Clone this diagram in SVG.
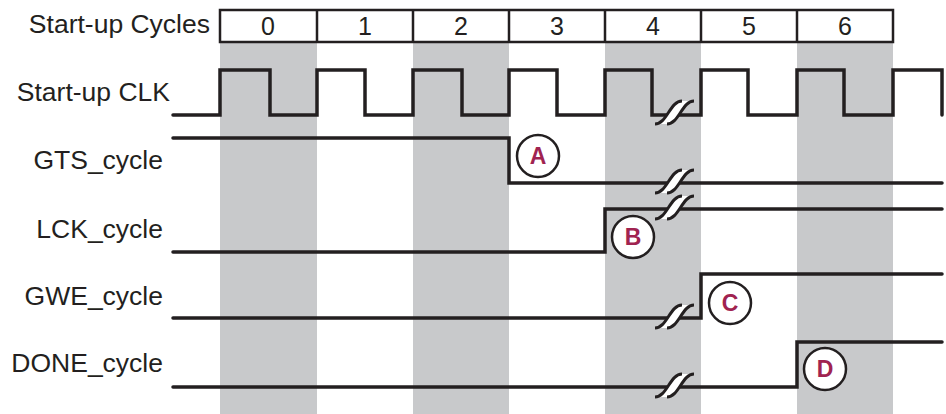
<svg xmlns="http://www.w3.org/2000/svg" xmlns:xlink="http://www.w3.org/1999/xlink" width="946" height="414" viewBox="0 0 946 414">
<style>
.lbl{font-family:"Liberation Sans",Arial,sans-serif;font-size:26.5px;fill:#231f20;text-anchor:end}
.num{font-family:"Liberation Sans",Arial,sans-serif;font-size:25px;fill:#231f20;text-anchor:middle}
.sig{fill:none;stroke:#231f20;stroke-width:3.5;stroke-linecap:round;stroke-linejoin:miter}
.col{fill:#c8c9cb}
.cell{fill:#fff;stroke:#231f20;stroke-width:2.5}
.mk circle{fill:#fff;stroke:#231f20;stroke-width:2.5}
.mk text{font-family:"Liberation Sans",Arial,sans-serif;font-size:23px;font-weight:bold;fill:#a02350;text-anchor:middle}
</style>
<defs>
<g id="brk">
<path d="M-20,10 C-8,10 -5,-13 7,-13 L19,-13 C7,-13 4,10 -8,10 Z" fill="#fff"/>
<path d="M-20,10 C-8,10 -5,-13 7,-13 M-8,10 C4,10 7,-13 19,-13" fill="none" stroke="#231f20" stroke-width="3"/>
</g>
</defs>
<rect width="946" height="414" fill="#fff"/>
<g id="columns">
<rect class="col" x="220" y="42" width="97" height="372"/>
<rect class="col" x="413" y="42" width="96" height="372"/>
<rect class="col" x="605" y="42" width="96" height="372"/>
<rect class="col" x="797" y="42" width="96" height="372"/>
</g>
<g id="header">
<text class="lbl" x="210" y="33">Start-up Cycles</text>
<rect class="cell" x="220" y="10" width="673" height="32"/>
<path d="M317,10V42M413,10V42M509,10V42M605,10V42M701,10V42M797,10V42" stroke="#231f20" stroke-width="2.5"/>
<text class="num" x="268" y="35">0</text>
<text class="num" x="365" y="35">1</text>
<text class="num" x="461" y="35">2</text>
<text class="num" x="557" y="35">3</text>
<text class="num" x="653" y="35">4</text>
<text class="num" x="749" y="35">5</text>
<text class="num" x="845" y="35">6</text>
</g>
<g id="clk">
<text class="lbl" x="170" y="101">Start-up CLK</text>
<path class="sig" d="M173,115H220V70H270V115H317V70H365V115H413V70H462V115H509V70H557V115H605V70H652V115H701V70H748V115H797V70H844V115H893V70H942V115"/>
<use xlink:href="#brk" href="#brk" transform="translate(675,114)"/>
</g>
<g id="gts">
<text class="lbl" x="163" y="169">GTS_cycle</text>
<path class="sig" d="M173,138H509V183H942"/>
<use xlink:href="#brk" href="#brk" transform="translate(675,183)"/>
</g>
<g id="lck">
<text class="lbl" x="163" y="238">LCK_cycle</text>
<path class="sig" d="M173,252H605V209H942"/>
<use xlink:href="#brk" href="#brk" transform="translate(675,209)"/>
</g>
<g id="gwe">
<text class="lbl" x="163" y="305">GWE_cycle</text>
<path class="sig" d="M173,318H701V274H942"/>
<use xlink:href="#brk" href="#brk" transform="translate(675,318)"/>
</g>
<g id="done">
<text class="lbl" x="163" y="372">DONE_cycle</text>
<path class="sig" d="M173,387H797V342H942"/>
<use xlink:href="#brk" href="#brk" transform="translate(675,387)"/>
</g>
<g id="markA" class="mk"><circle cx="538" cy="156" r="21"/><text x="538" y="164">A</text></g>
<g id="markB" class="mk"><circle cx="633" cy="237" r="21"/><text x="633" y="245">B</text></g>
<g id="markC" class="mk"><circle cx="730" cy="303" r="21"/><text x="730" y="311">C</text></g>
<g id="markD" class="mk"><circle cx="825" cy="369" r="21"/><text x="825" y="377">D</text></g>
</svg>
